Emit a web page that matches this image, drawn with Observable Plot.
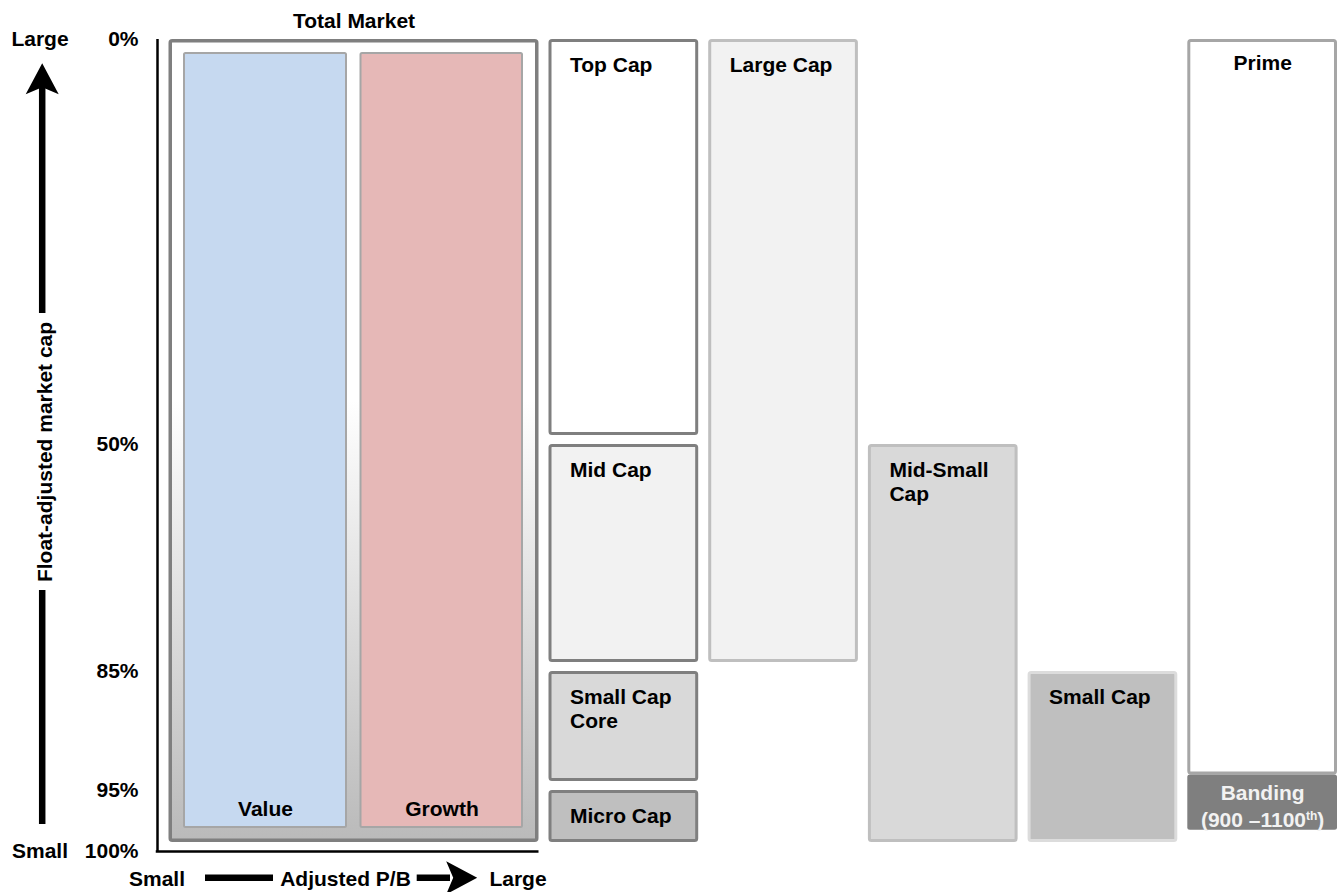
<!DOCTYPE html>
<html>
<head>
<meta charset="utf-8">
<script src="https://cdn.jsdelivr.net/npm/d3@7"></script>
<script src="https://cdn.jsdelivr.net/npm/@observablehq/plot@0.6"></script>
<style>
  html, body { margin: 0; padding: 0; background: #ffffff; overflow: hidden; }
</style>
</head>
<body>
<div id="chart"></div>
<script>
// ---------------- data ----------------
const yTicks = [0, 50, 85, 95, 100];                       // float-adjusted market cap percentiles
const totalMarketName = "Total Market";
const styleNames = ["Value", "Growth"];                    // Total Market split by adjusted P/B
const indexColumns = ["Size segments", "Large Cap", "Mid-Small Cap", "Small Cap", "Prime"];
const segNames = ["Top Cap", "Mid Cap", "Small Cap\nCore", "Micro Cap", "Large Cap", "Mid-Small\nCap", "Small Cap"];
const segColumn = [0, 0, 0, 0, 1, 2, 3];
const segFrom = [0, 50, 85, 95, 0, 50, 85];
const segTo = [50, 85, 95, 100, 85, 100, 100];
const primeNames = ["Prime", "Banding\n(900 –1100th)"];
const primeColumn = 4;
const primeFrom = [0, 93.7];
const primeTo = [93.7, 99];
const leftAxisEnds = ["Large", "Small"];
const leftAxisTitle = "Float-adjusted market cap";
const bottomAxisTexts = ["Small", "Adjusted P/B", "Large"];

// ---------------- styles ----------------
const segFill = {"Top Cap": "#ffffff", "Mid Cap": "#f2f2f2", "Small Cap\nCore": "#d9d9d9", "Micro Cap": "#bfbfbf",
                 "Large Cap": "#f2f2f2", "Mid-Small\nCap": "#d9d9d9", "Small Cap": "#bfbfbf"};
const segStroke = {"Top Cap": "#7f7f7f", "Mid Cap": "#7f7f7f", "Small Cap\nCore": "#7f7f7f", "Micro Cap": "#7f7f7f",
                   "Large Cap": "#bfbfbf", "Mid-Small\nCap": "#bfbfbf", "Small Cap": "#dcdcdc"};
const styleFill = {"Value": "#c6d9f0", "Growth": "#e6b8b7"};
const FONT = "'Liberation Sans', Arial, Helvetica, sans-serif";

// ---------------- derived tables ----------------
const NS = styleNames.length;                 // Total Market spans the style sub-columns
const NX = NS + indexColumns.length;
const Y0 = yTicks[0], Y1 = yTicks[yTicks.length - 1];
const tmBox = [{name: totalMarketName, x1: 0, x2: NS, from: Y0, to: Y1}];
const styleBoxes = styleNames.map((name, i) => ({name, x1: i, x2: i + 1, from: Y0, to: Y1}));
const segBoxes = segNames.map((name, i) => ({name, x1: NS + segColumn[i], x2: NS + segColumn[i] + 1, from: segFrom[i], to: segTo[i]}));
const primeBoxes = primeNames.map((name, i) => ({name, x1: NS + primeColumn, x2: NS + primeColumn + 1, from: primeFrom[i], to: primeTo[i]}));
const bottomTexts = bottomAxisTexts.map((t, i) => ({t, x: i * NS / 2, y: Y1}));
const mid = d => (d.x1 + d.x2) / 2;

// arrowhead symbol (tip at origin, pointing up)
const arrowHead = {
  draw(context, size) {
    const s = Math.sqrt(size / Math.PI) / 16;
    context.moveTo(0, 0);
    context.lineTo(16.5 * s, 31 * s);
    context.lineTo(0, 24 * s);
    context.lineTo(-16.5 * s, 31 * s);
    context.closePath();
  }
};

const T = {fontSize: 21, fontWeight: "bold"};

const chart = Plot.plot({
  width: 1340,
  height: 892,
  marginLeft: 157,
  marginRight: 0,
  marginTop: 39,
  marginBottom: 41,
  style: {fontFamily: FONT, fontSize: "21px", fontWeight: "bold", color: "#000", background: "#fff"},
  x: {type: "linear", domain: [0, NS, NX], range: [163.5, 543.5, 1342], axis: null},
  y: {type: "linear", domain: yTicks, range: [39, 444, 671, 790, 851], axis: null},
  color: {type: "identity"},
  marks: [
    // Total Market frame with gradient
    Plot.rect(tmBox, {x1: "x1", x2: "x2", y1: "from", y2: "to", fill: "url(#tmGrad)", stroke: "#7f7f7f", strokeWidth: 3.5, rx: 2,
      insetLeft: 6.75, insetRight: 6.75, insetTop: 1.75, insetBottom: 10.75}),
    Plot.text(tmBox, {x: mid, y: "from", text: "name", dy: -18.2, ...T}),

    // Value / Growth
    Plot.rect([styleBoxes[0]], {x1: "x1", x2: "x2", y1: "from", y2: "to", fill: d => styleFill[d.name], stroke: "#a6a6a6", strokeWidth: 2, rx: 1.5,
      insetLeft: 20.5, insetRight: 7.5, insetTop: 14, insetBottom: 24}),
    Plot.rect([styleBoxes[1]], {x1: "x1", x2: "x2", y1: "from", y2: "to", fill: d => styleFill[d.name], stroke: "#a6a6a6", strokeWidth: 2, rx: 1.5,
      insetLeft: 7, insetRight: 21.5, insetTop: 14, insetBottom: 24}),
    Plot.text([styleBoxes[0]], {x: mid, y: "to", text: "name", dx: 6.5, dy: -42.7, ...T}),
    Plot.text([styleBoxes[1]], {x: mid, y: "to", text: "name", dx: -7, dy: -42.7, ...T}),

    // size segment boxes
    Plot.rect(segBoxes, {x1: "x1", x2: "x2", y1: "from", y2: "to", fill: d => segFill[d.name], stroke: d => segStroke[d.name], strokeWidth: 3, rx: 2,
      insetLeft: 6.5, insetRight: 6.5, insetTop: 1.5, insetBottom: 10.5}),
    Plot.text(segBoxes, {x: "x1", y: "from", text: "name", textAnchor: "start", lineAnchor: "top", lineHeight: 1.13, dx: 26, dy: 16, ...T}),

    // Prime + banding
    Plot.rect([primeBoxes[0]], {x1: "x1", x2: "x2", y1: "from", y2: "to", fill: "#ffffff", stroke: "#a6a6a6", strokeWidth: 3, rx: 2,
      insetLeft: 6.5, insetRight: 6.5, insetTop: 1.5, insetBottom: 1.5}),
    Plot.rect([primeBoxes[1]], {x1: "x1", x2: "x2", y1: "from", y2: "to", fill: "#7f7f7f", rx: 2.5,
      insetLeft: 5, insetRight: 5, insetTop: 0, insetBottom: 9}),
    Plot.text([primeBoxes[0]], {x: mid, y: "from", text: "name", lineAnchor: "top", dy: 16, ...T}),
    Plot.text([primeBoxes[1]], {x: mid, y: d => (d.from + d.to) / 2, text: "name", lineHeight: 1.29, dy: -1.7, fill: "#f2f2f2", ...T}),

    // axes lines
    Plot.ruleX([0], {y1: Y0, y2: Y1, dx: -6.5, stroke: "#000", strokeWidth: 2.5}),
    Plot.ruleY([Y1], {x1: 0, x2: NS, insetLeft: -7.75, insetRight: 5, stroke: "#000", strokeWidth: 2.5}),
    Plot.axisY({ticks: yTicks, tickFormat: d => `${d}%`, tickSize: 0, tickPadding: 19, label: null, ...T}),

    // left (market cap) arrow
    Plot.ruleX([0], {y1: 50, y2: 100, insetTop: 146, insetBottom: 27, dx: -121.8, stroke: "#000", strokeWidth: 6.5}),
    Plot.ruleX([0], {y1: 0, y2: 50, insetTop: 47, insetBottom: 131, dx: -121.8, stroke: "#000", strokeWidth: 6.5}),
    Plot.dot([{x: 0, y: Y0}], {x: "x", y: "y", dx: -121.8, dy: 23.7, symbol: arrowHead, r: 16, fill: "#000", stroke: "none"}),
    Plot.text(leftAxisEnds.map((t, i) => ({t, v: i ? Y1 : Y0})),
      {text: "t", y: "v", frameAnchor: "left", dx: -117.5, textAnchor: "middle", ...T}),
    Plot.text([leftAxisTitle], {text: d => d, y: () => 50, frameAnchor: "left", textAnchor: "middle", rotate: -90, dx: -112.7, dy: 7.5, ...T}),

    // bottom (P/B) arrow
    Plot.ruleY([Y1], {x1: 0, x2: NS, insetLeft: 41.5, insetRight: 270.5, dy: 26.3, stroke: "#000", strokeWidth: 6.5}),
    Plot.ruleY([Y1], {x1: 0, x2: NS, insetLeft: 253.2, insetRight: 93.5, dy: 26.3, stroke: "#000", strokeWidth: 6.5}),
    Plot.dot([{x: NS, y: Y1}], {x: "x", y: "y", dx: -66.8, dy: 26.3, rotate: 90, symbol: arrowHead, r: 16, fill: "#000", stroke: "none"}),
    Plot.text([bottomTexts[0]], {text: "t", x: "x", y: "y", dx: -7, dy: 27.3, ...T}),
    Plot.text([bottomTexts[1]], {text: "t", x: "x", y: "y", dx: -8.5, dy: 27.3, ...T}),
    Plot.text([bottomTexts[2]], {text: "t", x: "x", y: "y", dx: -26, dy: 27.3, ...T})
  ]
});

// gradient for Total Market background
const svgNS = "http://www.w3.org/2000/svg";
const defs = document.createElementNS(svgNS, "defs");
const grad = document.createElementNS(svgNS, "linearGradient");
grad.setAttribute("id", "tmGrad");
grad.setAttribute("x1", "0"); grad.setAttribute("y1", "0");
grad.setAttribute("x2", "0"); grad.setAttribute("y2", "1");
[["0", "#ffffff"], ["0.45", "#ffffff"], ["1", "#bababa"]].forEach(([o, c]) => {
  const s = document.createElementNS(svgNS, "stop");
  s.setAttribute("offset", o); s.setAttribute("stop-color", c);
  grad.appendChild(s);
});
defs.appendChild(grad);
chart.insertBefore(defs, chart.firstChild);

// superscript "th" in the banding label
chart.querySelectorAll("tspan, text").forEach(el => {
  const node = Array.from(el.childNodes).find(n => n.nodeType === 3 && n.nodeValue.includes("th)"));
  if (!node) return;
  const [before] = node.nodeValue.split("th)");
  node.nodeValue = before;
  const sup = document.createElementNS(svgNS, "tspan");
  sup.setAttribute("dy", "-7"); sup.setAttribute("font-size", "12");
  sup.textContent = "th";
  const close = document.createElementNS(svgNS, "tspan");
  close.setAttribute("dy", "7");
  close.textContent = ")";
  el.appendChild(sup); el.appendChild(close);
});

document.getElementById("chart").appendChild(chart);
</script>
</body>
</html>
